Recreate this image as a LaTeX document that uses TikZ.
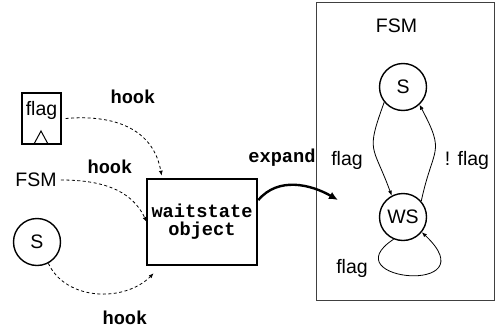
\documentclass[tikz,border=0pt]{standalone}
\usepackage{fontspec}
\setmainfont{Liberation Sans}
\setmonofont{Liberation Mono}
\usetikzlibrary{arrows.meta}

\tikzset{
  txt/.style={font=\fontsize{19.5bp}{22bp}\selectfont, inner sep=0pt},
  code/.style={font=\fontsize{18.7bp}{18bp}\selectfont\ttfamily\bfseries, inner sep=0pt},
  state/.style={draw, circle, line width=1.4bp, minimum size=47bp, inner sep=0pt,
    font=\fontsize{19.5bp}{22bp}\selectfont},
  hook/.style={dashed, dash pattern=on 3bp off 2.5bp, line width=0.8bp,
    -{Latex[length=5bp,width=4bp]}},
  trans/.style={line width=0.8bp, -{Latex[length=5bp,width=4bp]}},
}

\begin{document}
\begin{tikzpicture}[x=1bp, y=1bp]
    \useasboundingbox (0,0) rectangle (495,331);

    % the expanded state machine
    \draw [black!75, line width=1bp] (316,31) rectangle (494,328);
    \node (fsmtitle) [txt] at (396.5,305) {FSM};
    \node (s) [state] at (403,244) {S};
    \node (ws) [state] at (403,114) {WS};
    \draw [trans] (s.219) to[out=250, in=110, looseness=1.5] (ws.118);
    \draw [trans] (ws.41) to[out=78, in=-62, looseness=1.5] (s.-47);
    \draw [trans] (ws.-113) .. controls (330,50) and (490,35) .. (ws.-39);
    \node (fl1) [txt] at (347,171) {flag};
    \node (fl2) [txt] at (467,171) {! flag};
    \node (fl3) [txt] at (352,63) {flag};

    % things that hook into the waitstate
    \node (flagreg) [draw, line width=1.4bp, minimum width=39bp, minimum height=51bp,
      inner sep=0pt] at (41.5,212.5) {};
    \node (flagtxt) [txt] at (41.5,221) {flag};
    \draw [line width=1bp] (34,187) -- (41,200) -- (48,187);
    \node (fsmin) [txt] at (36,151) {FSM};
    \node (sin) [state] at (37,89) {S};

    \node (wso) [draw, line width=2.6bp, minimum width=110bp, minimum height=86bp,
      align=center, code] at (202,109) {waitstate\\object};

    \draw [hook] ([xshift=4]flagreg.east) to[out=5, in=100, looseness=1.1]
      ([xshift=16,yshift=2]wso.north west);
    \draw [hook] ([xshift=4]fsmin.east) to[out=0, in=115] ([xshift=1]wso.west);
    \draw [hook] (sin.-62) to[out=-65, in=-135] ([xshift=8,yshift=-7]wso.south west);
    \node (h1) [code] at (133,234) {hook};
    \node (h2) [code] at (110,164) {hook};
    \node (h3) [code] at (125,13) {hook};

    % expansion
    \draw [line width=2.4bp, -{Latex[length=9bp,width=8bp]}]
      ([yshift=22]wso.east) to[out=50, in=150] (338,131);
    \node (exp) [code] at (282,173) {expand};
\end{tikzpicture}
\end{document}
